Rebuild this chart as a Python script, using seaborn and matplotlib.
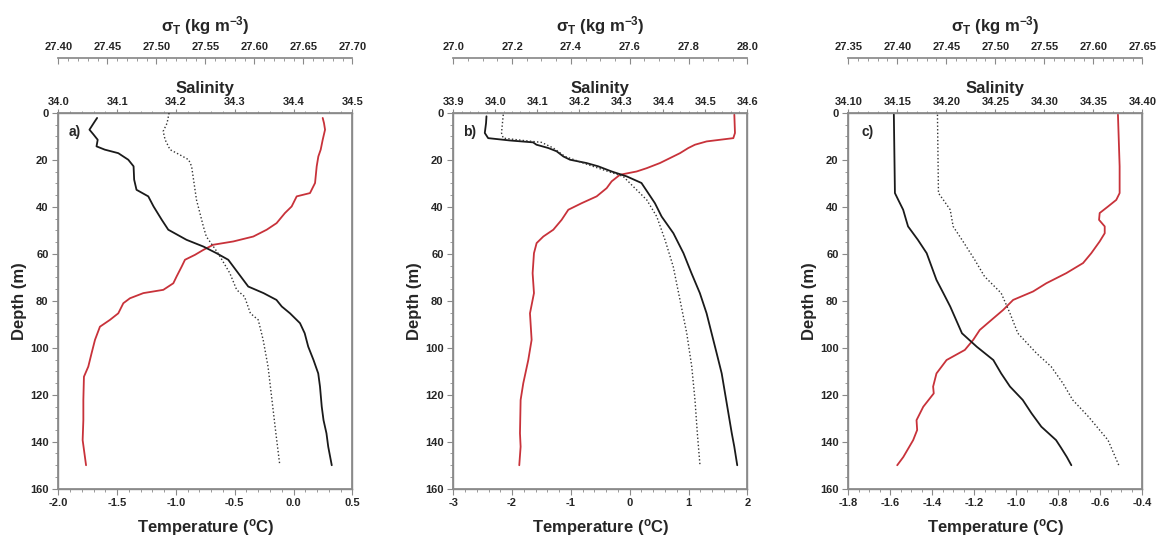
import matplotlib
matplotlib.use('Agg')
import matplotlib.pyplot as plt
from matplotlib.ticker import MultipleLocator
import seaborn as sns
import pandas as pd

# --- panel a ---
a_sal_depth = [2.1, 3.6, 7.1, 9.2, 11.4, 14.2, 15.6, 17.1, 19.9, 22.7, 28.4, 32.7, 35.5, 39.8, 45.5, 49.7,
               54.0, 56.9, 59.7, 62.5, 68.2, 73.9, 76.7, 79.6, 82.4, 85.3, 89.5, 93.8, 99.5, 105.2, 110.9,
               116.5, 125.1, 130.8, 136.4, 142.1, 150.0]
a_sal = [34.066, 34.062, 34.053, 34.060, 34.067, 34.065, 34.079, 34.102, 34.119, 34.128, 34.129, 34.133,
         34.153, 34.162, 34.176, 34.187, 34.218, 34.247, 34.269, 34.289, 34.306, 34.323, 34.349, 34.371,
         34.380, 34.394, 34.411, 34.419, 34.425, 34.434, 34.442, 34.445, 34.448, 34.451, 34.456, 34.459, 34.465]
a_temp_depth = [2.1, 4.3, 7.1, 11.4, 15.6, 18.5, 22.7, 29.8, 34.1, 35.5, 39.8, 42.6, 46.9, 49.7, 52.6, 54.7,
                56.1, 58.3, 60.4, 62.5, 65.4, 69.6, 72.5, 75.3, 76.7, 78.9, 81.0, 85.3, 88.1, 91.0, 96.6,
                102.3, 108.0, 112.3, 122.2, 130.8, 139.3, 150.0]
a_temp = [0.248, 0.259, 0.268, 0.248, 0.231, 0.211, 0.197, 0.183, 0.140, 0.027, -0.016, -0.073, -0.144,
          -0.228, -0.342, -0.512, -0.682, -0.767, -0.838, -0.923, -0.951, -0.994, -1.022, -1.107, -1.277,
          -1.391, -1.447, -1.490, -1.561, -1.646, -1.688, -1.717, -1.745, -1.782, -1.787, -1.787, -1.793, -1.764]
a_sig_depth = [0.0, 4.3, 7.8, 11.4, 15.6, 17.8, 19.9, 22.7, 37.0, 48.3, 52.6, 59.7, 68.2, 75.3, 78.2, 85.3,
               88.1, 96.6, 108.0, 122.2, 136.4, 150.0]
a_sig = [27.513, 27.511, 27.507, 27.509, 27.514, 27.524, 27.533, 27.536, 27.541, 27.548, 27.551, 27.563,
         27.575, 27.582, 27.590, 27.596, 27.604, 27.609, 27.614, 27.618, 27.622, 27.626]

# --- panel b ---
b_sal_depth = [1.4, 4.3, 8.5, 10.7, 11.7, 12.5, 13.5, 14.9, 16.3, 18.5, 19.9, 21.3, 22.7, 24.9, 27.0, 29.8,
               34.1, 38.4, 44.1, 51.2, 59.7, 68.2, 76.7, 85.3, 93.8, 102.3, 110.9, 119.4, 127.9, 136.4,
               142.1, 150.0]
b_sal = [33.979, 33.978, 33.975, 33.983, 34.035, 34.090, 34.098, 34.126, 34.146, 34.162, 34.178, 34.217,
         34.245, 34.277, 34.313, 34.348, 34.364, 34.380, 34.396, 34.424, 34.448, 34.467, 34.487, 34.503,
         34.515, 34.527, 34.539, 34.547, 34.555, 34.563, 34.569, 34.576]
b_temp_depth = [0.7, 8.5, 10.7, 12.1, 13.5, 14.9, 17.1, 19.2, 21.3, 23.5, 24.9, 26.3, 29.1, 32.0, 35.5, 38.4,
                41.2, 45.5, 49.7, 52.6, 55.4, 59.7, 68.2, 76.7, 85.3, 96.6, 105.2, 115.1, 122.2, 136.4,
                142.1, 150.0]
b_temp = [1.779, 1.790, 1.762, 1.308, 1.110, 0.997, 0.855, 0.685, 0.515, 0.288, 0.118, -0.166, -0.307,
          -0.392, -0.562, -0.817, -1.044, -1.158, -1.299, -1.469, -1.583, -1.628, -1.651, -1.628, -1.696,
          -1.668, -1.725, -1.810, -1.855, -1.866, -1.855, -1.878]
b_sig_depth = [0.7, 8.5, 10.7, 11.7, 12.5, 14.9, 18.5, 21.3, 24.2, 27.0, 31.3, 37.0, 44.1, 54.0, 65.4, 79.6,
               93.8, 108.0, 122.2, 136.4, 150.0]
b_sig = [27.170, 27.164, 27.170, 27.238, 27.300, 27.340, 27.380, 27.442, 27.510, 27.578, 27.612, 27.658,
         27.692, 27.720, 27.748, 27.771, 27.794, 27.811, 27.822, 27.830, 27.839]

# --- panel c ---
c_sal_depth = [0.7, 34.1, 37.0, 41.2, 45.5, 48.3, 54.0, 59.7, 65.4, 71.1, 76.7, 82.4, 88.1, 93.8, 99.5,
               105.2, 110.9, 116.5, 122.2, 127.9, 133.6, 139.3, 142.5, 146.5, 150.0]
c_sal = [34.1465, 34.1476, 34.151, 34.156, 34.159, 34.161, 34.171, 34.180, 34.185, 34.190, 34.197, 34.204,
         34.210, 34.216, 34.231, 34.248, 34.256, 34.265, 34.278, 34.287, 34.297, 34.312, 34.317, 34.323, 34.3276]
c_temp_depth = [0.7, 22.7, 34.1, 37.0, 39.8, 42.6, 45.5, 48.3, 51.2, 54.7, 59.7, 63.9, 68.2, 72.5, 76.0,
                79.6, 83.9, 88.1, 92.4, 96.6, 100.9, 105.2, 110.9, 116.5, 119.4, 125.1, 130.8, 135.0,
                139.3, 146.5, 150.0]
c_temp = [-0.516, -0.508, -0.508, -0.524, -0.563, -0.603, -0.606, -0.579, -0.579, -0.603, -0.643, -0.682,
          -0.762, -0.857, -0.920, -1.015, -1.063, -1.118, -1.174, -1.205, -1.245, -1.332, -1.380, -1.396,
          -1.393, -1.443, -1.475, -1.472, -1.491, -1.538, -1.567]
c_sig_depth = [0.7, 34.1, 37.0, 41.2, 48.3, 54.0, 62.5, 69.6, 76.7, 85.3, 93.8, 102.3, 108.0, 115.1, 122.2,
               129.3, 139.3, 150.0]
c_sig = [27.441, 27.442, 27.447, 27.454, 27.457, 27.466, 27.479, 27.489, 27.506, 27.515, 27.523, 27.542,
         27.557, 27.569, 27.579, 27.595, 27.615, 27.626]

panels = [
    dict(tag='a)', tag_x=0.035, left=0.0503,
         temp=(a_temp_depth, a_temp), sal=(a_sal_depth, a_sal), sig=(a_sig_depth, a_sig),
         tlim=(-2.0, 0.5), tmaj=0.5, tmin=0.1, tfmt='{:.1f}',
         slim=(34.0, 34.5), smaj=0.1, smin=0.02, sfmt='{:.1f}',
         glim=(27.40, 27.70), gmaj=0.05, gmin=0.01, gfmt='{:.2f}'),
    dict(tag='b)', tag_x=0.034, left=0.3911,
         temp=(b_temp_depth, b_temp), sal=(b_sal_depth, b_sal), sig=(b_sig_depth, b_sig),
         tlim=(-3, 2), tmaj=1, tmin=0.2, tfmt='{:.0f}',
         slim=(33.9, 34.6), smaj=0.1, smin=0.02, sfmt='{:.1f}',
         glim=(27.0, 28.0), gmaj=0.2, gmin=0.05, gfmt='{:.1f}'),
    dict(tag='c)', tag_x=0.045, left=0.7319,
         temp=(c_temp_depth, c_temp), sal=(c_sal_depth, c_sal), sig=(c_sig_depth, c_sig),
         tlim=(-1.8, -0.4), tmaj=0.2, tmin=0.05, tfmt='{:.1f}',
         slim=(34.10, 34.40), smaj=0.05, smin=0.01, sfmt='{:.2f}',
         glim=(27.35, 27.65), gmaj=0.05, gmin=0.01, gfmt='{:.2f}'),
]

sns.set_theme(style='ticks')
plt.rcParams['font.family'] = ['Liberation Sans', 'DejaVu Sans']
plt.rcParams['font.weight'] = 'bold'
plt.rcParams['axes.labelweight'] = 'bold'
plt.rcParams['axes.unicode_minus'] = False
plt.rcParams['mathtext.fontset'] = 'custom'
plt.rcParams['mathtext.rm'] = 'Liberation Sans:bold'
plt.rcParams['mathtext.it'] = 'Liberation Sans:bold'
plt.rcParams['mathtext.bf'] = 'Liberation Sans:bold'
plt.rcParams['mathtext.sf'] = 'Liberation Sans:bold'

RED = '#c8323a'
FRAME = '#8a8a8a'
TICKFS = 8
LABFS = 12

fig = plt.figure(figsize=(11.59, 5.42), dpi=100)


def style_x(axis, lim, maj, mnr, fmt):
    axis.set_xlim(*lim)
    axis.xaxis.set_major_locator(MultipleLocator(maj))
    axis.xaxis.set_minor_locator(MultipleLocator(mnr))
    axis.xaxis.set_major_formatter(plt.FuncFormatter(lambda v, p: fmt.format(0.0 if abs(v) < 1e-9 else v)))


for p in panels:
    ax = fig.add_axes([p['left'], 0.0983, 0.2537, 0.6932])
    ax_s = ax.twiny()
    ax_g = ax.twiny()

    df_t = pd.DataFrame({'depth': p['temp'][0], 'val': p['temp'][1]})
    df_s = pd.DataFrame({'depth': p['sal'][0], 'val': p['sal'][1]})
    df_g = pd.DataFrame({'depth': p['sig'][0], 'val': p['sig'][1]})

    sns.lineplot(data=df_t, x='val', y='depth', sort=False, estimator=None, ax=ax, color=RED, lw=1.3)
    sns.lineplot(data=df_s, x='val', y='depth', sort=False, estimator=None, ax=ax_s, color='#1a1a1a', lw=1.3)
    sns.lineplot(data=df_g, x='val', y='depth', sort=False, estimator=None, ax=ax_g, color='#333333',
                 lw=1.0, linestyle=(0, (1, 1.6)))

    ax.set_ylim(160, 0)

    # temperature (bottom) and depth
    style_x(ax, p['tlim'], p['tmaj'], p['tmin'], p['tfmt'])
    ax.set_xlabel('Temperature ($\\mathregular{^o}$C)', fontsize=LABFS, labelpad=6)
    ax.set_ylabel('Depth (m)', fontsize=LABFS, labelpad=2)
    ax.yaxis.set_major_locator(MultipleLocator(20))
    ax.yaxis.set_minor_locator(MultipleLocator(5))
    ax.tick_params(axis='both', which='major', labelsize=TICKFS, length=4, width=0.8, color=FRAME, pad=3)
    ax.tick_params(axis='both', which='minor', length=2, width=0.6, color=FRAME)
    for sp in ax.spines.values():
        sp.set_color(FRAME)
        sp.set_linewidth(1.0)

    # salinity (top)
    style_x(ax_s, p['slim'], p['smaj'], p['smin'], p['sfmt'])
    ax_s.set_xlabel('Salinity', fontsize=LABFS, labelpad=3)
    ax_s.set_ylabel('')
    ax_s.tick_params(axis='x', which='major', labelsize=TICKFS, length=3, width=0.8, color=FRAME, pad=1)
    ax_s.tick_params(axis='x', which='minor', length=1.5, width=0.6, color=FRAME)
    for sp in ax_s.spines.values():
        sp.set_color(FRAME)

    # sigma-T (top, offset)
    style_x(ax_g, p['glim'], p['gmaj'], p['gmin'], p['gfmt'])
    ax_g.set_ylabel('')
    ax_g.spines['top'].set_position(('outward', 39.6))
    for side in ('left', 'right', 'bottom'):
        ax_g.spines[side].set_visible(False)
    ax_g.spines['top'].set_color(FRAME)
    ax_g.set_xlabel('$\\sigma_T$ (kg m$^{-3}$)', fontsize=LABFS, labelpad=8)
    ax_g.tick_params(axis='x', which='major', direction='in', labelsize=TICKFS, length=4, width=0.8,
                     color=FRAME, pad=4)
    ax_g.tick_params(axis='x', which='minor', direction='in', length=2, width=0.6, color=FRAME)

    ax.text(p['tag_x'], 0.95, p['tag'], transform=ax.transAxes, fontsize=10, fontweight='bold',
            ha='left', va='center')

plt.savefig('out.png', dpi=100)
